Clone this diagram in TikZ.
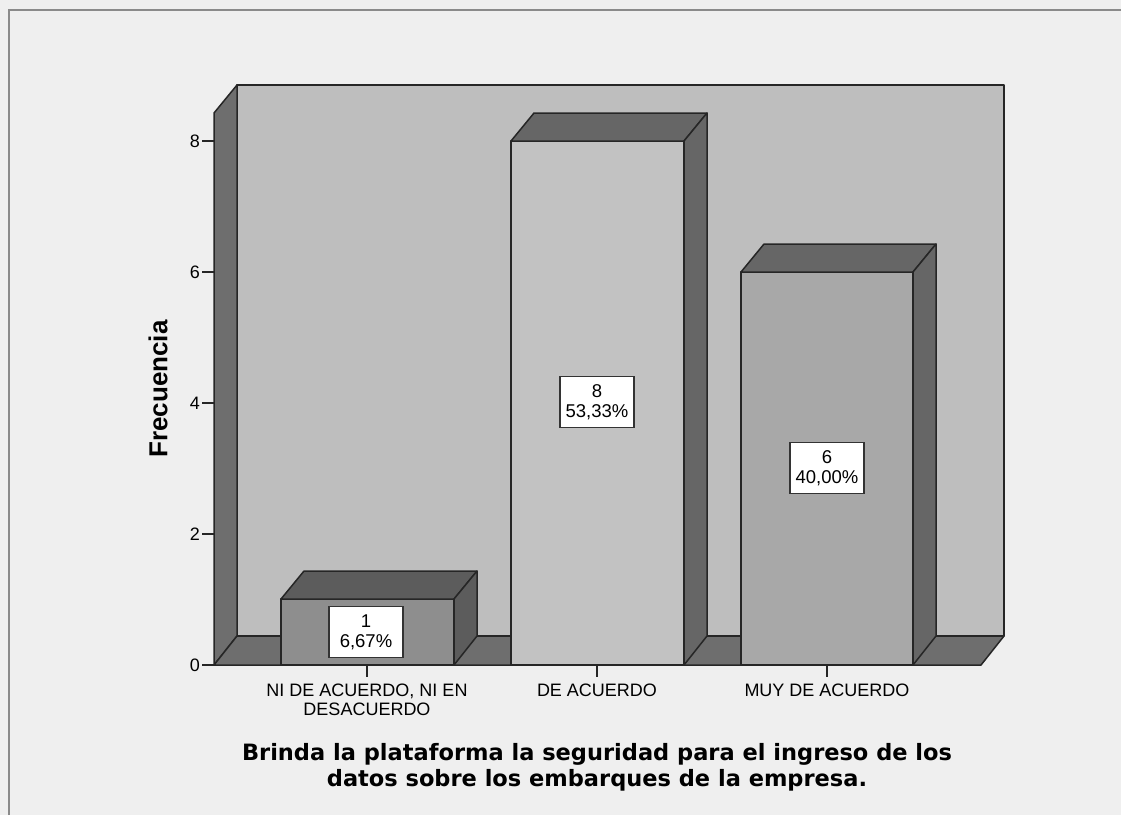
\documentclass[tikz,border=0pt]{standalone}
\usepackage{fontspec}
\setmainfont{Liberation Sans}
\newfontfamily\titrefont{DejaVu Sans}
\usepackage{tikz}

\definecolor{fondgris}{HTML}{EFEFEF}
\definecolor{cadregris}{HTML}{8A8A8A}
\definecolor{murclair}{HTML}{BEBEBE}
\definecolor{murfonce}{HTML}{6E6E6E}
\definecolor{dessus}{HTML}{666666}
\definecolor{barreun}{HTML}{8E8E8E}
\definecolor{barredeux}{HTML}{C2C2C2}
\definecolor{barretrois}{HTML}{A8A8A8}
\newcommand{\arcol}{black!85}

\tikzset{
  arete/.style={draw=\arcol, line width=1.5pt, line join=round},
  etiq/.style={font=\fontsize{18}{20}\selectfont, inner sep=0pt},
  valeur/.style={draw=black!80, line width=1.5pt, fill=white, align=center,
    minimum width=74pt, minimum height=51pt, inner sep=2pt,
    font=\fontsize{18.5}{20}\selectfont}
}

\begin{document}
\begin{tikzpicture}[x=1pt, y=-1pt]

    \useasboundingbox (0,0) rectangle (1121,815);
    \fill[fondgris] (0,0) rectangle (1121,815);
    \draw[cadregris, line width=2pt] (9,815) -- (9,10) -- (1121,10);

    % murs et sol
    \draw[arete, fill=murclair] (237,85) rectangle (1004,636);
    \draw[arete, fill=murfonce] (214,113) -- (237,85) -- (237,636) -- (214,665) -- cycle;
    \draw[arete, fill=murfonce] (214,665) -- (237,636) -- (1004,636) -- (981,665) -- cycle;

    % barre 1
    \draw[arete, fill=barreun] (281,599) rectangle (454,665);
    \draw[arete, fill=dessus!90!black] (281,599) -- (304,571) -- (477,571) -- (454,599) -- cycle;
    \draw[arete, fill=dessus!90!black] (454,599) -- (477,571) -- (477,636) -- (454,665) -- cycle;

    % barre 2
    \draw[arete, fill=barredeux] (511,141) rectangle (684,665);
    \draw[arete, fill=dessus] (511,141) -- (534,113) -- (707,113) -- (684,141) -- cycle;
    \draw[arete, fill=dessus] (684,141) -- (707,113) -- (707,636) -- (684,665) -- cycle;

    % barre 3
    \draw[arete, fill=barretrois] (741,272) rectangle (913,665);
    \draw[arete, fill=dessus] (741,272) -- (764,244) -- (936,244) -- (913,272) -- cycle;
    \draw[arete, fill=dessus] (913,272) -- (936,244) -- (936,636) -- (913,665) -- cycle;

    % axe vertical
    \draw[arete] (202,665) -- (214,665);
    \draw[arete] (202,534) -- (214,534);
    \draw[arete] (202,403) -- (214,403);
    \draw[arete] (202,272) -- (214,272);
    \draw[arete] (202,141) -- (214,141);

    \node[etiq, anchor=east] (t0) at (200,665) {0};
    \node[etiq, anchor=east] (t2) at (200,534) {2};
    \node[etiq, anchor=east] (t4) at (200,403) {4};
    \node[etiq, anchor=east] (t6) at (200,272) {6};
    \node[etiq, anchor=east] (t8) at (200,141) {8};

    \node[font=\fontsize{26}{28}\selectfont\bfseries, rotate=90] (freq) at (158,389) {Frecuencia};

    % categories
    \draw[arete] (367,665) -- (367,677);
    \draw[arete] (597,665) -- (597,677);
    \draw[arete] (827,665) -- (827,677);

    \node[etiq, anchor=north, align=center, font=\fontsize{18}{19}\selectfont] (c1) at (367,684)
      {NI DE ACUERDO, NI EN\\DESACUERDO};
    \node[etiq, anchor=north] (c2) at (597,684) {DE ACUERDO};
    \node[etiq, anchor=north] (c3) at (827,684) {MUY DE ACUERDO};

    % valeurs
    \node[valeur] (v1) at (366,632) {1\\6,67\%};
    \node[valeur] (v2) at (597,402) {8\\53,33\%};
    \node[valeur] (v3) at (827,468) {6\\40,00\%};

    \node[align=center, inner sep=0pt, font=\titrefont\bfseries\fontsize{22.5}{26}\selectfont]
      (titre) at (597,767)
      {Brinda la plataforma la seguridad para el ingreso de los\\datos sobre los embarques de la empresa.};

  \end{tikzpicture}
\end{document}
